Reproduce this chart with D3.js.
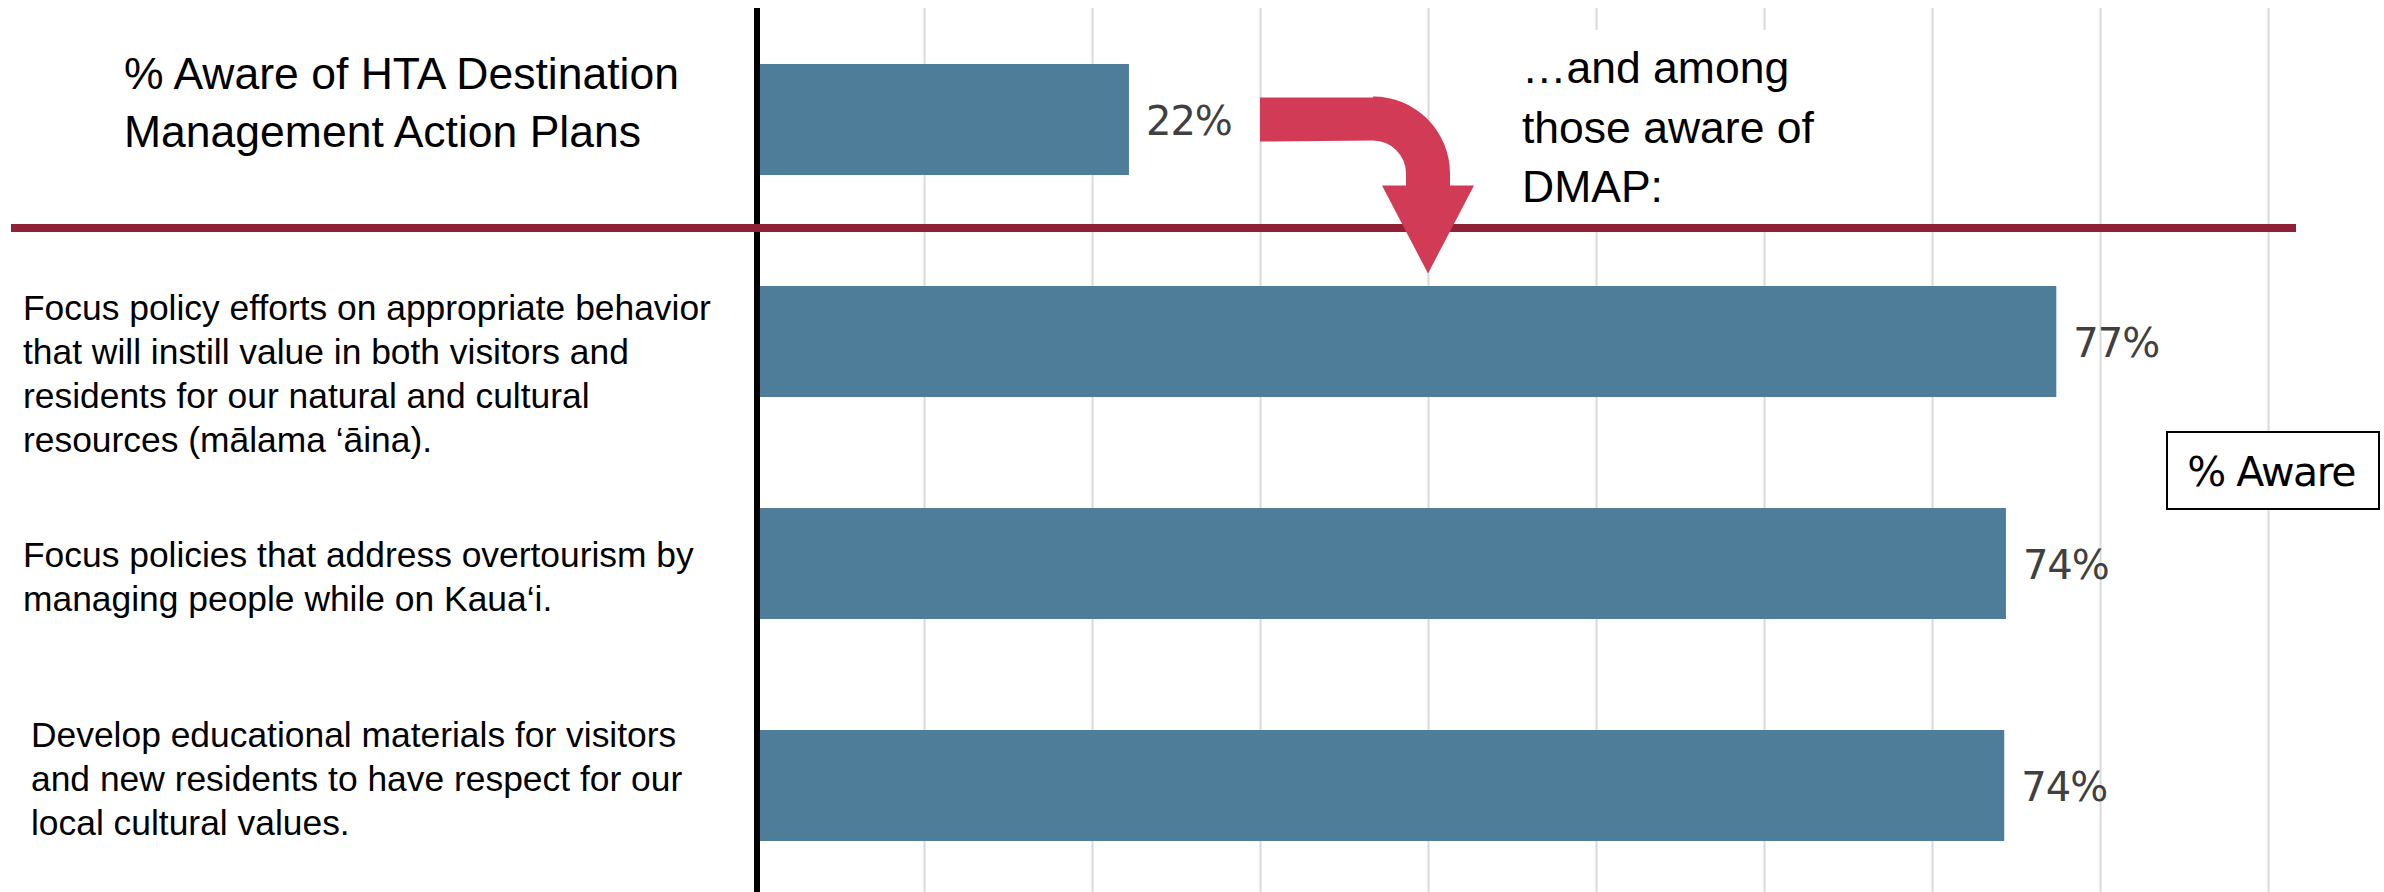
<!DOCTYPE html>
<html>
<head>
<meta charset="utf-8">
<script src="https://cdn.jsdelivr.net/npm/d3@7"></script>
<style>
  html, body { margin: 0; padding: 0; background: #ffffff; }
  svg { display: block; }
</style>
</head>
<body>
<svg id="chart" width="2384" height="892"></svg>
<script>
// ---------------- DATA ----------------
const categories = ["awareDMAP", "behavior", "overtourism", "education"];
const values = [22.2, 77.4, 74.4, 74.3];
const valueLabels = ["22%", "77%", "74%", "74%"];
const titleLines = ["% Aware of HTA Destination", "Management Action Plans"];
const categoryLines = [
  ["Focus policy efforts on appropriate behavior",
   "that will instill value in both visitors and",
   "residents for our natural and cultural",
   "resources (m\u0101lama \u2018\u0101ina)."],
  ["Focus policies that address overtourism by",
   "managing people while on Kaua\u2018i."],
  ["Develop educational materials for visitors",
   "and new residents to have respect for our",
   "local cultural values."]
];
const subsetLines = ["\u2026and among", "those aware of", "DMAP:"];
const gridTicks = [10, 20, 30, 40, 50, 60, 70, 80, 90];
const legendLabel = "% Aware";

// ---------------- LAYOUT ----------------
const W = 2384, H = 892;
const svg = d3.select("#chart");
svg.append("rect").attr("width", W).attr("height", H).attr("fill", "#fff");

const x = d3.scaleLinear().domain([0, 90]).range([756, 2268]);
const y = d3.scaleBand().domain(categories).range([64, 841]).paddingInner(0.5).paddingOuter(0);

const BAR = "#4e7d9a", ARROW = "#d13b55", RULE = "#8f2035";

// gridlines via axis
const grid = svg.append("g")
  .attr("transform", "translate(0,8)")
  .call(d3.axisBottom(x).tickValues(gridTicks).tickSize(H - 8).tickFormat(""));
grid.select(".domain").remove();
grid.selectAll(".tick line").attr("stroke", "#d9d9d9").attr("stroke-width", 2);

// white box behind the "...and among" text
svg.append("rect").attr("x", 1500).attr("y", 30).attr("width", 400).attr("height", 196).attr("fill", "#fff");

// bars
svg.append("g").selectAll("rect")
  .data(categories)
  .join("rect")
  .attr("x", x(0))
  .attr("y", d => y(d))
  .attr("width", (d, i) => x(values[i]) - x(0))
  .attr("height", y.bandwidth())
  .attr("fill", BAR);

// value labels
svg.append("g").selectAll("text")
  .data(categories)
  .join("text")
  .attr("x", (d, i) => x(values[i]) + 17)
  .attr("y", d => y(d) + y.bandwidth() / 2 + 15)
  .attr("font-family", "DejaVu Sans, sans-serif")
  .attr("font-size", 40)
  .attr("letter-spacing", -1)
  .attr("fill", "#404040")
  .text((d, i) => valueLabels[i]);

// vertical black axis line
svg.append("line")
  .attr("x1", x(0) + 1).attr("x2", x(0) + 1)
  .attr("y1", 8).attr("y2", H)
  .attr("stroke", "#000").attr("stroke-width", 6);

// horizontal maroon rule
svg.append("rect").attr("x", 11).attr("y", 224).attr("width", 2285).attr("height", 8).attr("fill", RULE);

// bent arrow
const yc = y(categories[0]) + y.bandwidth() / 2;
const cx = x(40), x0 = x(30);
const hw = 22, rc = 55, headW = 46;
const p = d3.path();
p.moveTo(x0, yc - hw);
p.lineTo(cx - rc, yc - hw);
p.arc(cx - rc, yc + 54, rc + hw, -Math.PI / 2, 0, false);
p.lineTo(cx + hw, yc + 66);
p.lineTo(cx + headW, yc + 66);
p.lineTo(cx, yc + 154);
p.lineTo(cx - headW, yc + 66);
p.lineTo(cx - hw, yc + 66);
p.lineTo(cx - hw, yc + 54);
p.arc(cx - rc, yc + 54, rc - hw, 0, -Math.PI / 2, true);
p.lineTo(x0, yc + hw);
p.closePath();
svg.append("path").attr("d", p.toString()).attr("fill", ARROW);

// title (top category label)
const sans = "Liberation Sans, Arial, sans-serif";
svg.append("text")
  .attr("font-family", sans).attr("font-size", 44.5).attr("fill", "#000")
  .selectAll("tspan").data(titleLines).join("tspan")
  .attr("x", 124).attr("y", (d, i) => 89 + i * 58).text(d => d);

// subset text
svg.append("text")
  .attr("font-family", sans).attr("font-size", 44.5).attr("fill", "#000")
  .selectAll("tspan").data(subsetLines).join("tspan")
  .attr("x", 1522).attr("y", (d, i) => 83 + i * 59.5).text(d => d);

// category labels
const labelX = [23, 23, 31];
const labelY0 = [320, 567, 747];
categoryLines.forEach((lines, k) => {
  svg.append("text")
    .attr("font-family", sans).attr("font-size", 35.4).attr("fill", "#000")
    .selectAll("tspan").data(lines).join("tspan")
    .attr("x", labelX[k]).attr("y", (d, i) => labelY0[k] + i * 44).text(d => d);
});

// legend box
svg.append("rect").attr("x", 2167).attr("y", 432).attr("width", 212).attr("height", 77)
  .attr("fill", "#fff").attr("stroke", "#000").attr("stroke-width", 2);
svg.append("text")
  .attr("x", 2271).attr("y", 486).attr("text-anchor", "middle")
  .attr("font-family", "DejaVu Sans, sans-serif").attr("font-size", 41)
  .attr("letter-spacing", -1.5).attr("fill", "#000")
  .text(legendLabel);
</script>
</body>
</html>
